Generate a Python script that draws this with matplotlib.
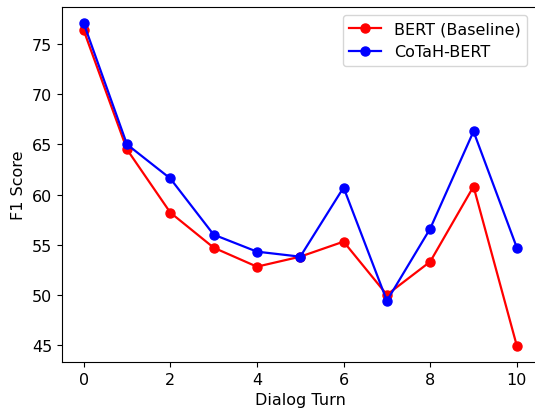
import numpy as np
from matplotlib import pyplot as plt

turns = np.arange(0, 11)
# F1 scores
bert_f1 = [76.4, 64.5, 58.2, 54.7, 52.8, 53.8, 55.3, 50.0, 53.3, 60.8, 44.9]
cotah_f1 = [77.1, 65.0, 61.6, 56.0, 54.3, 53.8, 60.7, 49.4, 56.6, 66.3, 54.7]

fig = plt.figure(figsize=(5.35, 4.1), dpi=100)
# right spine falls just outside the saved image, as in the original
ax = fig.add_axes([62 / 535, 1 - 363 / 410, (538.5 - 62) / 535, (363 - 8) / 410])

ax.plot(turns, bert_f1, marker='o', color='red', label='BERT (Baseline)',
        markersize=6.5, linewidth=1.6)
ax.plot(turns, cotah_f1, marker='o', color='blue', label='CoTaH-BERT',
        markersize=6.5, linewidth=1.6)

ax.set_xlabel('Dialog Turn', fontsize=11.5)
ax.set_ylabel('F1 Score', fontsize=11.5)
ax.tick_params(labelsize=11.5)
ax.legend(fontsize=11.5, loc='upper right', bbox_to_anchor=(0.993, 1.0))

plt.savefig('out.png', dpi=100)
